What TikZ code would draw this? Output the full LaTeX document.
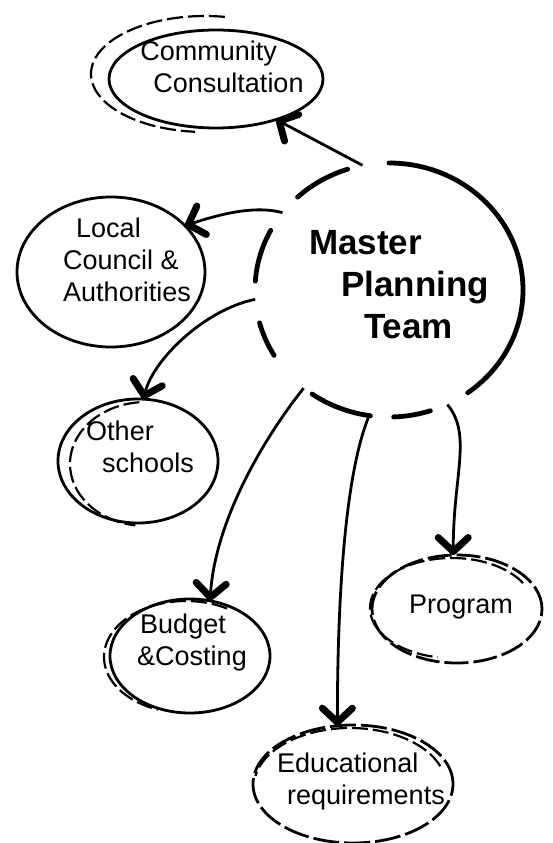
\documentclass[tikz,border=0pt]{standalone}
\usepackage{fontspec}
\setmainfont{Liberation Sans}
\newfontfamily\hand{Liberation Sans}
\usetikzlibrary{shapes.geometric,arrows.meta,calc}

\tikzset{
  bubble/.style={ellipse, draw, line width=2.8pt, inner sep=0pt, outer sep=0pt},
  ghost/.style={line width=2.2pt, dash pattern=on 16pt off 5pt},
  label/.style={font=\hand\fontsize{27}{32}\selectfont, align=left, inner sep=0pt},
  link/.style={line width=2.8pt, -{Straight Barb[length=14pt, width=30pt, line width=7pt, round]}},
  rim/.style={line width=4.8pt, line cap=round},
}
% dashed rim of the team circle: screen angles, measured counter-clockwise
\newcommand\rimarc[2]{%
  \draw[rim] ($(mpt.center)+({-#1}:134 and 127)$)
    arc[start angle={-#1}, end angle={-#2}, x radius=134, y radius=127];}

\begin{document}
\begin{tikzpicture}[x=1pt, y=-1pt]
\useasboundingbox (0,0) rectangle (552,843);

% central team
\node[ellipse, minimum width=268pt, minimum height=254pt] (mpt) at (389,290) {};
\node[font=\hand\bfseries\fontsize{35}{42}\selectfont, align=left, inner sep=0pt] (mptx) at (399,285)
  {Master\\\hspace*{32pt}Planning\\\hspace*{55pt}Team};
\rimarc{90}{-54}
\rimarc{-88}{-72}
\rimarc{-125}{-98}
\rimarc{195}{211}
\rimarc{176}{152}
\rimarc{133}{108}

% surrounding groups
\node[bubble, minimum width=214pt, minimum height=98pt] (cc) at (216,79) {};
\node[label] (cct) at (222,67) {Community\\\hspace*{13pt}Consultation};
\draw[ghost] ($(205,74)+(-80:114 and 58)$) arc[start angle=-80, end angle=-265, x radius=114, y radius=58];

\node[bubble, minimum width=188pt, minimum height=150pt] (lc) at (111,272) {};
\node[label] (lct) at (127,260) {\hspace*{13pt}Local\\Council \&\\Authorities};

\node[bubble, minimum width=160pt, minimum height=124pt] (os) at (138,461) {};
\node[label] (ost) at (140,447) {Other\\\hspace*{16pt}schools};
\draw[ghost] ($(146,464)+(-95:76 and 62)$) arc[start angle=-95, end angle=-262, x radius=76, y radius=62];

\node[bubble, minimum width=160pt, minimum height=114pt] (bc) at (190,656) {};
\node[label] (bct) at (192,643) {\hspace*{3pt}Budget\\\&Costing};
\draw[ghost] ($(186,657)+(-60:82 and 56)$) arc[start angle=-60, end angle=-250, x radius=82, y radius=56];

\node[bubble, minimum width=170pt, minimum height=108pt, dash pattern=on 24pt off 5pt] (pg) at (457,609) {};
\node[label] (pgt) at (461,607) {Program};
\draw[ghost] ($(452,608)+(-30:82 and 50)$) arc[start angle=-30, end angle=-260, x radius=82, y radius=50];

\node[bubble, minimum width=200pt, minimum height=118pt, dash pattern=on 26pt off 5pt] (ed) at (353,784) {};
\node[label] (edt) at (361,782) {Educational\\\hspace*{10pt}requirements};
\draw[ghost] ($(350,786)+(-20:96 and 58)$) arc[start angle=-20, end angle=-170, x radius=96, y radius=58];

% connectors from the team to each group
\draw[link] (mpt.102) -- (cc.-34);
\draw[link] (mpt.144) .. controls +(-30,-8) and +(30,-10) .. (lc.32);
\draw[link] (mpt.184) .. controls +(-50,10) and +(10,-40) .. (os.85);
\draw[link] (mpt.229) .. controls +(-40,50) and +(5,-80) .. (bc.70);
\draw[link] (mpt.261) .. controls +(-25,60) and +(0,-120) .. (ed.105);
\draw[link] (mpt.297) .. controls +(25,30) and +(0,-80) .. (pg.94);
\end{tikzpicture}
\end{document}
